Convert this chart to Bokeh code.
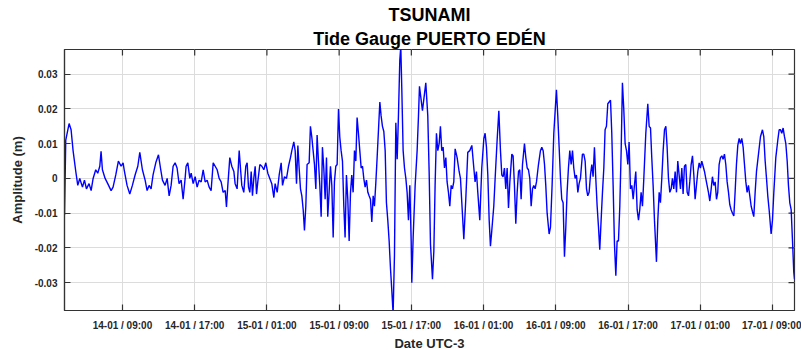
import math
import pandas as pd
from bokeh.plotting import figure
from bokeh.models import (Range1d, DatetimeAxis, LinearAxis, FixedTicker,
                          DatetimeTickFormatter, Title, ColumnDataSource, Grid)
from bokeh.embed import file_html
from bokeh.resources import INLINE

# ---------------- data ----------------
start_time = "2022-01-14 00:00"   # hours below are counted from this instant (UTC-3)

hours = [
    2.58, 2.72, 3.09, 3.31, 3.53, 3.83, 4.05, 4.27, 4.57, 4.79, 5.01, 5.30, 5.53, 5.75, 6.04, 6.26,
    6.49, 6.63, 6.78, 7.08, 7.37, 7.74, 7.96, 8.26, 8.55, 8.85, 9.07, 9.22, 9.51, 9.81, 10.10, 10.40,
    10.70, 10.92, 11.21, 11.51, 11.73, 11.95, 12.17, 12.39, 12.69, 12.99, 13.21, 13.43, 13.72, 13.95,
    14.17, 14.39, 14.61, 14.83, 15.05, 15.27, 15.50, 15.72, 15.94,
    16.05, 16.24, 16.46, 16.61, 16.83, 17.05, 17.27, 17.49, 17.72, 17.94, 18.16, 18.38, 18.60, 18.82,
    19.05, 19.27, 19.49, 19.71, 19.93, 20.15, 20.38, 20.52, 20.67, 20.89, 21.11, 21.34, 21.48, 21.70,
    21.93, 22.07, 22.22, 22.44, 22.66, 22.81, 22.96, 23.11, 23.26, 23.40, 23.55, 23.70, 23.85, 23.99,
    24.22, 24.44, 24.66, 24.88, 25.10, 25.32, 25.54, 25.77, 25.91, 26.14, 26.36, 26.58, 26.73, 26.95,
    27.17, 27.39, 27.61, 27.76, 27.98, 28.13, 28.28, 28.43, 28.57, 28.72, 28.87, 29.02, 29.16, 29.31,
    29.45, 29.68, 29.82, 29.97, 30.12, 30.27, 30.42, 30.56, 30.71, 30.86, 31.01, 31.15, 31.30, 31.45,
    31.60, 31.74, 31.89, 32.04, 32.19, 32.34, 32.48, 32.63, 32.78, 32.93, 33.07, 33.22, 33.37, 33.52,
    33.66, 33.81, 33.96, 34.11, 34.26, 34.40, 34.55, 34.70, 34.85, 34.99, 35.14, 35.29, 35.44, 35.59,
    35.73, 35.88, 36.03, 36.18, 36.32, 36.47, 36.62, 36.77, 36.91, 37.06, 37.21, 37.36, 37.51, 37.65,
    37.80, 37.95, 38.10, 38.24, 38.39, 38.54, 38.69, 38.83, 38.98, 39.13, 39.28, 39.43, 39.57, 39.72,
    39.83, 39.94, 40.09, 40.24, 40.39, 40.53, 40.68, 40.83, 40.98, 41.05, 41.20, 41.42, 41.64, 41.79,
    41.90, 42.23, 42.60, 42.82, 42.97,
    43.12, 43.34, 43.49, 43.63, 43.78, 43.93, 44.08, 44.22, 44.37, 44.52, 44.67, 44.82, 44.96, 45.11,
    45.26, 45.41, 45.55, 45.70, 45.85, 46.07, 46.29, 46.44, 46.59, 46.81, 47.03, 47.25, 47.47, 47.70,
    47.92, 48.06, 48.21, 48.36, 48.58, 48.80, 49.03, 49.17, 49.32, 49.47, 49.62, 49.76, 49.91, 50.13,
    50.28, 50.50, 50.69, 50.87, 51.02, 51.17, 51.31, 51.46, 51.61, 51.76, 51.91, 52.13, 52.27, 52.42,
    52.57, 52.72, 52.87, 53.01, 53.16, 53.31, 53.53, 53.68, 53.83, 53.97, 54.12, 54.27, 54.42, 54.56,
    54.71, 54.86, 55.08, 55.30, 55.45, 55.60, 55.75, 55.89, 56.04, 56.26,
    56.41, 56.59, 56.78, 57.07, 57.22, 57.37, 57.52, 57.66, 57.81, 57.96, 58.11, 58.25, 58.40, 58.55,
    58.70, 58.85, 58.99, 59.14, 59.29, 59.44, 59.58, 59.73, 59.95, 60.10, 60.25, 60.40, 60.54, 60.69,
    60.84, 60.99, 61.13, 61.28, 61.43, 61.58, 61.73, 61.87, 62.02, 62.17, 62.32, 62.46, 62.61, 62.76,
    62.91, 63.06, 63.20, 63.35, 63.50, 63.65, 63.79, 63.94, 64.09, 64.24, 64.38, 64.53, 64.68, 64.83,
    64.98, 65.12, 65.27, 65.42, 65.57, 65.71, 65.86, 66.01, 66.16, 66.30, 66.45, 66.60, 66.75, 66.97,
    67.19, 67.34, 67.49, 67.63, 67.78, 67.93, 68.15, 68.30, 68.45, 68.59, 68.74, 68.89, 69.04, 69.19,
    69.33, 69.48, 69.63, 69.78, 69.92,
    70.07, 70.22, 70.37, 70.51, 70.66, 70.81, 70.96, 71.10, 71.25, 71.40, 71.55, 71.70, 71.84, 71.99,
    72.14, 72.29, 72.43, 72.58, 72.73, 72.88, 73.02, 73.17, 73.32, 73.47, 73.61, 73.76, 73.91, 74.06,
    74.21, 74.35, 74.50, 74.65, 74.80, 74.94, 75.09, 75.24, 75.39, 75.53, 75.68, 75.83, 75.98, 76.13,
    76.27, 76.42, 76.57, 76.72, 76.86, 77.01, 77.16, 77.31, 77.45, 77.60, 77.75, 77.90, 78.05, 78.19,
    78.34, 78.49, 78.64, 78.78, 78.93, 79.08, 79.23, 79.45, 79.67, 79.89, 80.04, 80.19, 80.34, 80.48,
    80.63, 80.85, 81.00, 81.15, 81.37, 81.59, 81.74, 81.89, 82.03, 82.18, 82.33, 82.48, 82.63, 82.77,
    82.92, 83.07, 83.22, 83.36, 83.44,
]

amplitude_m = [
    -0.0105, 0.011, 0.0158, 0.014, 0.008, 0.002, -0.002, 0.0, -0.0025, -0.0005, -0.003, -0.0015, -0.0035, 0.0, 0.0025, 0.0015,
    0.0035, 0.0078, 0.0025, 0.0, -0.0015, -0.0035, -0.0025, 0.001, 0.005, 0.0035, 0.0045, 0.002, -0.002, -0.0045, -0.002, 0.001,
    0.0035, 0.0075, 0.0025, -0.0005, -0.0035, -0.002, -0.003, 0.001, 0.0045, 0.0068, 0.003, -0.0005, -0.002, 0.0,
    -0.005, -0.002, 0.0035, 0.0045, 0.003, -0.0015, -0.0005, -0.006, 0.0,
    0.0035, 0.0045, 0.0, 0.0015, -0.0015, 0.0005, -0.0025, -0.0005, -0.001, 0.0025, -0.001, -0.0005, -0.0025, -0.0035,
    0.0045, 0.0035, 0.0025, 0.0, -0.001, -0.004, -0.0035, -0.0082, -0.002, 0.006, 0.0035, 0.002, -0.0015, -0.003,
    0.008, 0.003, -0.002, -0.004, 0.0035, 0.0045, -0.0025, -0.004, 0.002, -0.005, 0.0, 0.0035, -0.0045, -0.001,
    0.004, 0.0035, 0.0025, 0.0045, 0.0015, 0.0, -0.0015, -0.0055, -0.0015, -0.004, 0.001, 0.0045, -0.002, 0.0005,
    0.0, 0.0035, 0.006, 0.008, 0.0105, 0.008, -0.0015, 0.0095, 0.003, -0.003, -0.005, -0.009, -0.015, -0.008,
    0.004, 0.0045, 0.015, 0.012, 0.008, 0.004, -0.003, 0.0125, 0.005, -0.002, -0.011, 0.009, 0.003, -0.006,
    0.006, -0.011, -0.004, 0.0035, -0.002, -0.017, -0.001, 0.0035, 0.004, 0.020, 0.012, 0.008, 0.005, -0.008,
    -0.017, 0.001, -0.006, -0.018, -0.004, 0.001, -0.004, 0.008, 0.005, 0.0175, 0.013, 0.008, 0.003, 0.0035,
    0.0, -0.0025, -0.0005, -0.004, -0.005, -0.006, -0.0125, -0.005, -0.008, -0.0015, 0.006, 0.014, 0.022, 0.018,
    0.015, 0.0135, 0.008, -0.007, -0.012, -0.018, -0.026, -0.032, -0.039, -0.022, 0.016, 0.0055, 0.018, 0.034,
    0.038, 0.026, 0.008, 0.003, 0.0, -0.004, -0.012, -0.002, -0.018, -0.030, -0.017, -0.002, 0.008, 0.018,
    0.0265, 0.0195, 0.0275, 0.018, 0.002,
    -0.019, -0.029, -0.021, -0.002, 0.013, 0.008, 0.010, 0.015, 0.008, 0.009, 0.003, 0.006, -0.001, -0.004,
    -0.008, -0.002, -0.003, -0.001, 0.0085, 0.006, 0.002, 0.0, -0.007, -0.0175, -0.006, 0.0075, 0.008, 0.0095,
    0.003, -0.001, 0.002, -0.004, -0.012, 0.003, 0.0115, 0.013, 0.009, 0.001, -0.012, -0.0195, -0.015, -0.008,
    0.0, 0.011, 0.0195, 0.008, 0.001, 0.0005, 0.003, -0.003, 0.003, -0.0085, -0.001, 0.007, 0.0065, -0.002,
    -0.013, -0.004, 0.002, 0.0025, -0.006, 0.004, 0.010, 0.006, 0.003, 0.0025, 0.0, -0.008, -0.003, -0.002,
    -0.003, -0.001, 0.004, 0.008, 0.009, 0.008, 0.004, -0.002, -0.010, -0.016,
    -0.014, -0.002, 0.013, 0.0255, 0.018, 0.009, 0.0, -0.006, -0.007, -0.0225, -0.014, -0.004, 0.003, 0.008,
    0.004, 0.008, 0.003, 0.0, 0.001, -0.004, -0.0015, 0.0, 0.007, 0.007, 0.005, -0.003, -0.005, -0.004,
    0.001, 0.004, 0.0005, 0.009, 0.0, -0.008, -0.014, -0.0205, -0.012, -0.004, 0.003, 0.014, 0.015, 0.0215,
    0.022, 0.0225, 0.013, -0.002, -0.019, -0.028, -0.018, -0.018, -0.008, 0.008, 0.0275, 0.020, 0.010, 0.008,
    0.004, 0.0105, -0.003, -0.002, -0.006, -0.002, 0.002, -0.009, -0.012, -0.009, -0.004, -0.008, 0.0, 0.013,
    0.0215, 0.015, 0.0145, 0.006, -0.002, -0.012, -0.024, -0.012, -0.004, -0.007, 0.0, 0.008, 0.014, 0.015,
    0.009, 0.0, -0.004, -0.003, 0.0,
    -0.003, 0.002, -0.004, 0.005, 0.001, -0.003, 0.003, -0.0045, 0.0035, 0.004, -0.004, -0.005, -0.001, 0.004,
    0.0065, 0.001, -0.006, -0.002, 0.002, 0.0045, 0.003, 0.005, 0.0035, 0.002, 0.0, -0.002, -0.004, -0.0065,
    -0.003, 0.0005, -0.002, -0.001, -0.006, -0.004, 0.004, 0.006, 0.0065, 0.0055, 0.007, 0.004, -0.001, -0.004,
    -0.0075, -0.009, -0.010, -0.0108, -0.004, 0.004, 0.0095, 0.0115, 0.010, 0.0115, 0.009, 0.004, -0.001, -0.004,
    -0.002, -0.005, -0.008, -0.0095, -0.011, -0.004, 0.002, 0.007, 0.012, 0.014, 0.012, 0.005, 0.0, -0.005,
    -0.009, -0.016, -0.012, -0.004, 0.006, 0.011, 0.014, 0.014, 0.013, 0.0145, 0.012, 0.010, 0.005, -0.002,
    -0.007, -0.009, -0.018, -0.027, -0.029,
]

x_tick_times = ["2022-01-14 09:00", "2022-01-14 17:00", "2022-01-15 01:00", "2022-01-15 09:00",
                "2022-01-15 17:00", "2022-01-16 01:00", "2022-01-16 09:00", "2022-01-16 17:00",
                "2022-01-17 01:00", "2022-01-17 09:00"]
x_tick_format = "%d-%m / %H:%M"
y_ticks = [-0.03, -0.02, -0.01, 0, 0.01, 0.02, 0.03]
y_tick_labels = ["-0.03", "-0.02", "-0.01", "0", "0.01", "0.02", "0.03"]
x_view_hours = [2.58, 83.44]
y_view = [-0.038, 0.0371]

title_line1 = "TSUNAMI"
title_line2 = "Tide Gauge PUERTO EDÉN"
x_label = "Date UTC-3"
y_label = "Amplitude (m)"

# ---------------- build ----------------
t0 = pd.Timestamp(start_time)
times = t0 + pd.to_timedelta(hours, unit="h")
src = ColumnDataSource(dict(t=times, a=amplitude_m))

def ms(ts):
    return pd.Timestamp(ts).value / 1e6

x_start = ms(t0 + pd.Timedelta(hours=x_view_hours[0]))
x_end = ms(t0 + pd.Timedelta(hours=x_view_hours[1]))
x_ticks_ms = [ms(s) for s in x_tick_times]

FONT = "Liberation Sans"
TXT = "#262626"
AX = "#333333"

p = figure(width=801, height=350, x_axis_type=None, y_axis_type=None,
           x_range=Range1d(x_start, x_end), y_range=Range1d(*y_view),
           output_backend="svg", toolbar_location=None, title=None,
           min_border_left=64, min_border_right=7, min_border_top=11, min_border_bottom=5)
p.background_fill_color = "white"
p.border_fill_color = "white"
p.outline_line_color = AX
p.outline_line_width = 1.2

fmt_kwargs = {k: x_tick_format for k in ["milliseconds", "seconds", "minsec", "minutes",
                                         "hourmin", "hours", "days", "months", "years"]}

def style(ax):
    ax.axis_line_color = AX
    ax.axis_line_width = 1.2
    ax.major_tick_line_color = AX
    ax.major_tick_line_width = 1.2
    ax.major_tick_in = 6
    ax.major_tick_out = 0
    ax.minor_tick_line_color = None
    ax.major_label_text_font = FONT
    ax.major_label_text_font_style = "bold"
    ax.major_label_text_color = TXT
    ax.major_label_text_font_size = "10px"
    ax.axis_label_text_font = FONT
    ax.axis_label_text_font_style = "bold"
    ax.axis_label_text_color = TXT
    ax.axis_label_text_font_size = "13px"

xb = DatetimeAxis(ticker=FixedTicker(ticks=x_ticks_ms),
                  formatter=DatetimeTickFormatter(**fmt_kwargs))
style(xb)
xb.major_label_standoff = 9
p.add_layout(xb, "below")

xtitle = Title(text=x_label, align="center", text_font=FONT, text_font_style="bold",
               text_font_size="13px", text_color=TXT, standoff=0)
p.add_layout(xtitle, "below")

yl = LinearAxis(ticker=FixedTicker(ticks=y_ticks), axis_label=y_label,
                major_label_overrides={v: s for v, s in zip(y_ticks, y_tick_labels)})
style(yl)
yl.major_label_standoff = 7
yl.axis_label_standoff = 7
p.add_layout(yl, "left")

t2 = Title(text=title_line2, align="center", text_font=FONT, text_font_style="bold",
           text_font_size="18px", text_color="black", standoff=1)
t1 = Title(text=title_line1, align="center", text_font=FONT, text_font_style="bold",
           text_font_size="18px", text_color="black", standoff=4)
p.add_layout(t2, "above")
p.add_layout(t1, "above")

p.add_layout(Grid(dimension=0, ticker=FixedTicker(ticks=x_ticks_ms),
                  grid_line_color="#dcdcdc", grid_line_width=1))
p.add_layout(Grid(dimension=1, ticker=FixedTicker(ticks=y_ticks),
                  grid_line_color="#dcdcdc", grid_line_width=1))

# inward tick marks on the top and right edges of the box
p.ray(x=x_ticks_ms, y=[y_view[1]] * len(x_ticks_ms), length=6, length_units="screen",
      angle=-math.pi / 2, line_color=AX, line_width=1.2)
p.ray(x=[x_end] * len(y_ticks), y=y_ticks, length=6, length_units="screen",
      angle=math.pi, line_color=AX, line_width=1.2)

p.line(x="t", y="a", source=src, line_color="#0000ff", line_width=1.4)

open("out.html", "w").write(file_html(p, INLINE))
